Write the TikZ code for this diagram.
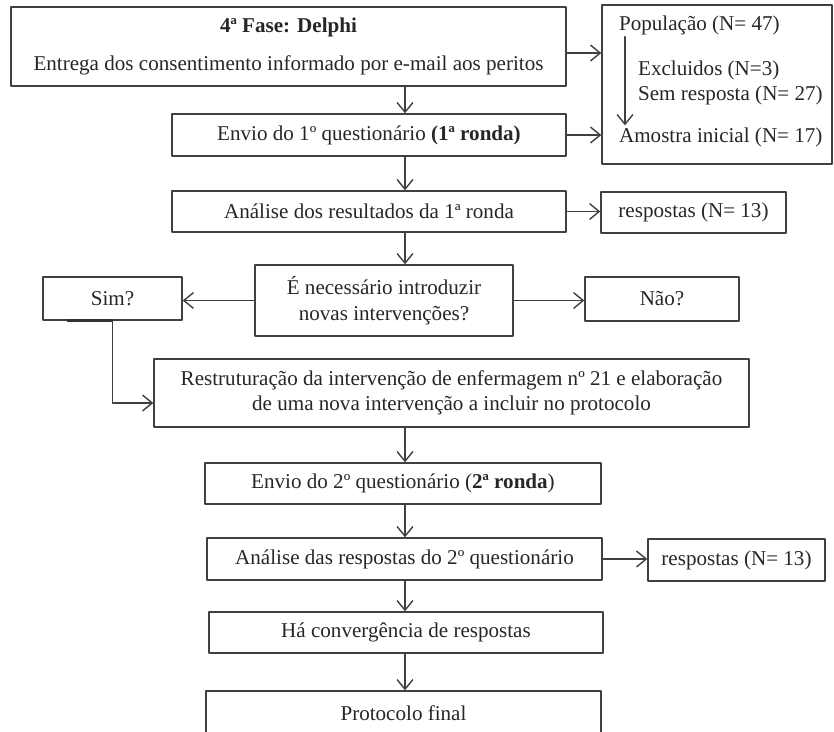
\documentclass[tikz,border=0pt]{standalone}
\usepackage{fontspec}
\setmainfont{Liberation Serif}
\usetikzlibrary{arrows.meta}

\begin{document}
\begin{tikzpicture}[x=0.02cm, y=-0.02cm, >={Straight Barb[length=5.5pt,width=9pt]},
    line cap=round, line join=round,
    font=\fontsize{12}{14.5}\selectfont,
    box/.style={draw=black!75, line width=0.8pt, inner sep=0pt, align=center, text=black!85},
    txt/.style={inner sep=1pt, anchor=west, text=black!85},
    arr/.style={->, draw=black!75, line width=0.8pt}]

    % Page size of the scan
    \useasboundingbox (0,0) rectangle (834,731);

    % Main column of the Delphi phase
    \node[box, minimum width=11.1cm, minimum height=1.58cm] (delphi) at (288.5,46.5)
        {\textbf{4ª Fase: Delphi}\\[7pt]Entrega dos consentimento informado por e-mail aos peritos};
    \node[box, minimum width=7.88cm, minimum height=0.84cm] (envio1) at (369,135)
        {Envio do 1º questionário \textbf{(1ª ronda)}};
    \node[box, minimum width=7.88cm, minimum height=0.82cm] (analise1) at (369,211.5)
        {Análise dos resultados da 1ª ronda};
    \node[box, minimum width=5.16cm, minimum height=1.42cm] (decisao) at (384,300.5)
        {É necessário introduzir\\novas intervenções?};

    % Sample box on the right
    \node[box, minimum width=4.6cm, minimum height=3.18cm] (popbox) at (717,84.5) {};
    \node[txt] (pop) at (617,25) {População (N= 47)};
    \node[txt] (excl) at (636,70) {Excluidos (N=3)};
    \node[txt] (sem) at (636,95) {Sem resposta (N= 27)};
    \node[txt] (amostra) at (617,137) {Amostra inicial (N= 17)};
    \node[box, minimum width=3.7cm, minimum height=0.82cm] (resp1) at (693.5,212.5)
        {respostas (N= 13)};

    % Answers to the question
    \node[box, minimum width=2.78cm, minimum height=0.86cm] (sim) at (112.5,298.5) {Sim?};
    \node[box, minimum width=3.08cm, minimum height=0.88cm] (nao) at (662,299) {Não?};

    % Second round
    \node[box, minimum width=11.9cm, minimum height=1.36cm] (restr) at (451.5,393)
        {Restruturação da intervenção de enfermagem nº 21 e elaboração\\de uma nova intervenção a incluir no protocolo};
    \node[box, minimum width=7.92cm, minimum height=0.82cm] (envio2) at (403,483.5)
        {Envio do 2º questionário (\textbf{2ª ronda})};
    \node[box, minimum width=7.9cm, minimum height=0.84cm] (analise2) at (404.5,559)
        {Análise das respostas do 2º questionário};
    \node[box, minimum width=3.54cm, minimum height=0.84cm] (resp2) at (736.5,560)
        {respostas (N= 13)};
    \node[box, minimum width=7.88cm, minimum height=0.82cm] (conv) at (406,632.5)
        {Há convergência de respostas};
    % bottom edge falls off the page
    \node[box, minimum width=7.9cm, minimum height=0.88cm] (final) at (403.5,713)
        {Protocolo final};

    % Vertical flow, all on one line
    \coordinate (axis) at (405,0);
    \draw[arr] (delphi.south -| axis) -- (envio1.north -| axis);
    \draw[arr] (envio1.south -| axis) -- (analise1.north -| axis);
    \draw[arr] (analise1.south -| axis) -- (decisao.north -| axis);
    \draw[arr] (restr.south -| axis) -- (envio2.north -| axis);
    \draw[arr] (envio2.south -| axis) -- (analise2.north -| axis);
    \draw[arr] (analise2.south -| axis) -- (conv.north -| axis);
    \draw[arr] (conv.south -| axis) -- (final.north -| axis);

    % Arrows to the right
    \draw[arr] ([yshift=-0.13cm]delphi.east) -- ([yshift=-0.13cm]delphi.east -| popbox.west);
    \draw[arr] (envio1.east) -- (envio1.east -| popbox.west);
    \draw[arr] ([xshift=0.16cm]pop.south west) -- ([xshift=0.16cm]amostra.north west);
    \draw[arr] (analise1.east) -- (analise1.east -| resp1.west);
    \draw[arr] (analise2.east) -- (analise2.east -| resp2.west);

    % Decision branches
    \draw[arr] (decisao.west) -- (decisao.west -| sim.east);
    \draw[arr] (decisao.east) -- (decisao.east -| nao.west);
    \draw[line width=1.6pt, black!80] ([xshift=-0.9cm]sim.south) -- (sim.south);
    \draw[arr] (sim.south) |- ([yshift=-0.2cm]restr.west);

\end{tikzpicture}
\end{document}
